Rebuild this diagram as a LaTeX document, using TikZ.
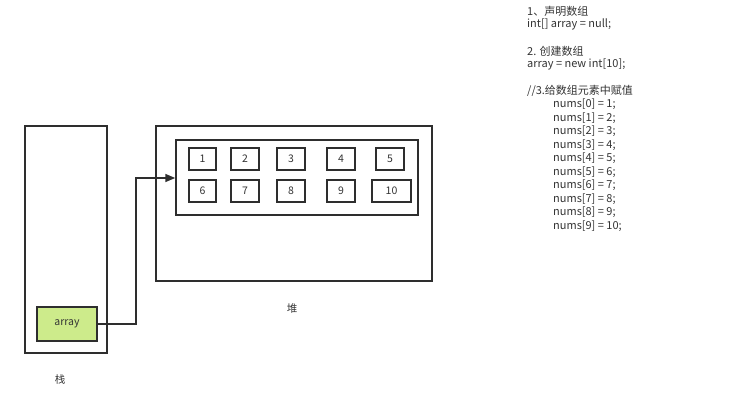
\documentclass[tikz,border=0pt]{standalone}
\usepackage{fontspec}
\setmainfont{Noto Sans CJK SC}
\usetikzlibrary{arrows.meta}
\definecolor{ln}{HTML}{2E2E2E}
\definecolor{tx}{HTML}{333333}
\definecolor{gr}{HTML}{CDEB8B}
\tikzset{
  box/.style={draw=ln, line width=1.5pt},
  cell/.style={draw=ln, line width=1.5pt, minimum height=22pt, inner sep=0pt, font=\fontsize{10.5}{11}\selectfont, text=tx},
  code/.style={anchor=west, inner sep=0pt, font=\fontsize{11}{12}\selectfont, text=tx},
  lbl/.style={inner sep=0pt, font=\fontsize{10.5}{12}\selectfont, text=tx},
  conn/.style={draw=ln, line width=1.5pt}
}
\begin{document}
\begin{tikzpicture}[x=1pt,y=-1pt]
\useasboundingbox (0,0) rectangle (732,414);
% stack
\node[box, minimum width=82pt, minimum height=227pt, inner sep=0pt] (stack) at (66,239.5) {};
\node[box, fill=gr, minimum width=60pt, minimum height=34pt, inner sep=0pt, font=\fontsize{10.5}{11}\selectfont, text=tx] (arr) at (67,324) {array};
\node[lbl] (stacklbl) at (60,380) {栈};
% heap
\node[box, minimum width=276pt, minimum height=155pt, inner sep=0pt] (heap) at (294,203.5) {};
\node[box, minimum width=242pt, minimum height=75pt, inner sep=0pt] (inner) at (297,177.5) {};
\node[lbl] (heaplbl) at (292,309) {堆};
% cells
\node[cell, minimum width=27pt] (c1) at (202.5,159) {1};
\node[cell, minimum width=28pt] (c2) at (245,159) {2};
\node[cell, minimum width=28pt] (c3) at (291,159) {3};
\node[cell, minimum width=28pt] (c4) at (341,159) {4};
\node[cell, minimum width=28pt] (c5) at (390,159) {5};
\node[cell, minimum width=27pt] (c6) at (202.5,191) {6};
\node[cell, minimum width=28pt] (c7) at (245,191) {7};
\node[cell, minimum width=28pt] (c8) at (291,191) {8};
\node[cell, minimum width=28pt] (c9) at (341,191) {9};
\node[cell, minimum width=39pt] (c10) at (391.5,191) {10};
% connector
\coordinate (k1) at (136,324);
\coordinate (k2) at (136,178);
\draw[conn, -{Triangle[length=10pt,width=8pt]}] (arr.east) -- (k1) -- (k2) -- (inner.west |- k2);
% code text
\node[code] (t1) at (527,11) {1、声明数组};
\node[code] (t2) at (527,24.5) {int[] array = null;};
\node[code] (t3) at (527,51) {2. 创建数组};
\node[code] (t4) at (527,64.5) {array = new int[10];};
\node[code] (t5) at (527,91) {//3.给数组元素中赋值};
\foreach \i in {0,...,9}{
  \pgfmathtruncatemacro{\v}{\i+1}
  \node[code] (n\i) at (553,{104.5+13.5*\i}) {nums[\i] = \v;};
}
\end{tikzpicture}
\end{document}
